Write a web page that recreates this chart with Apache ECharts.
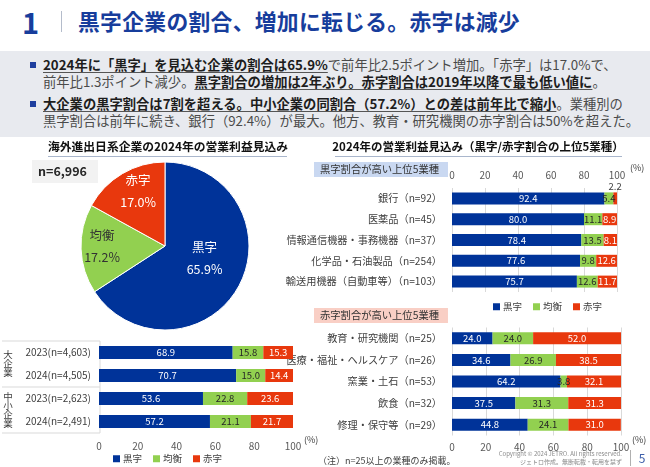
<!DOCTYPE html>
<html><head><meta charset="utf-8">
<script src="https://cdn.jsdelivr.net/npm/echarts@6/dist/echarts.min.js"></script>
<style>
html,body{margin:0;padding:0;background:#fff;}
#wrap{position:relative;width:650px;height:467px;overflow:hidden;font-family:"Noto Sans CJK JP","Noto Sans",sans-serif;}
#chart{position:absolute;left:0;top:0;width:650px;height:467px;}
.abs{position:absolute;white-space:nowrap;}
#num{left:22px;top:2px;font-size:29px;font-weight:bold;color:#173d9c;line-height:38px;}
#sep{left:61px;top:11px;width:1px;height:21px;background:#b4bccb;}
#ttl{left:78px;top:5px;font-size:21.8px;font-weight:bold;color:#173d9c;line-height:31px;letter-spacing:0.3px;}
#box{left:0;top:51px;width:650px;height:86px;background:#e8eaef;}
.bul{width:6px;height:6px;background:#1f3f9f;}
.ln{font-size:13.3px;line-height:16px;color:#4a4a4a;left:43px;}
.ln b{color:#1d1d1d;text-decoration:underline;text-decoration-color:#555;text-underline-offset:2px;}
</style></head>
<body><div id="wrap">
<div id="box" class="abs"></div>
<div id="num" class="abs">1</div><div id="sep" class="abs"></div>
<div id="ttl" class="abs">黒字企業の割合、増加に転じる。赤字は減少</div>
<div class="abs bul" style="left:30px;top:62px"></div>
<div class="abs bul" style="left:30px;top:101px"></div>
<div class="abs ln" style="top:57px"><b>2024年に「黒字」を見込む企業の割合は65.9%</b>で前年比2.5ポイント増加。「赤字」は17.0%で、</div>
<div class="abs ln" style="top:74px">前年比1.3ポイント減少。<b>黒字割合の増加は2年ぶり。赤字割合は2019年以降で最も低い値に</b>。</div>
<div class="abs ln" style="top:96px"><b>大企業の黒字割合は7割を超える。中小企業の同割合（57.2%）との差は前年比で縮小</b>。業種別の</div>
<div class="abs ln" style="top:113px">黒字割合は前年に続き、銀行（92.4%）が最大。他方、教育・研究機関の赤字割合は50%を超えた。</div>
<div id="chart"></div>
</div>
<script>
// ---------- data ----------
const SERIES_NAMES = ['黒字', '均衡', '赤字'];

const PIE_VALUES = [65.9, 17.2, 17.0];
const PIE_N = 'n=6,996';
const PIE_TITLE = '海外進出日系企業の2024年の営業利益見込み';

const SIZE_GROUPS = ['大企業', '中小企業'];
const SIZE_CATS = ['2023(n=4,603)', '2024(n=4,505)', '2023(n=2,623)', '2024(n=2,491)'];
const SIZE_KURO = [68.9, 70.7, 53.6, 57.2];
const SIZE_KINKO = [15.8, 15.0, 22.8, 21.1];
const SIZE_AKA = [15.3, 14.4, 23.6, 21.7];

const IND_TITLE = '2024年の営業利益見込み（黒字/赤字割合の上位5業種）';
const TOP_LABEL = '黒字割合が高い上位5業種';
const TOP_CATS = ['銀行（n=92）', '医薬品（n=45）', '情報通信機器・事務機器（n=37）', '化学品・石油製品（n=254）', '輸送用機器（自動車等）（n=103）'];
const TOP_KURO = [92.4, 80.0, 78.4, 77.6, 75.7];
const TOP_KINKO = [5.4, 11.1, 13.5, 9.8, 12.6];
const TOP_AKA = [2.2, 8.9, 8.1, 12.6, 11.7];

const LOSS_LABEL = '赤字割合が高い上位5業種';
const LOSS_CATS = ['教育・研究機関（n=25）', '医療・福祉・ヘルスケア（n=26）', '窯業・土石（n=53）', '飲食（n=32）', '修理・保守等（n=29）'];
const LOSS_KURO = [24.0, 34.6, 64.2, 37.5, 44.8];
const LOSS_KINKO = [24.0, 26.9, 3.8, 31.3, 24.1];
const LOSS_AKA = [52.0, 38.5, 32.1, 31.3, 31.0];

const AXIS_MIN = 0, AXIS_MAX = 100, AXIS_STEP = 20;
const UNIT = '(%)';
const NOTE = '（注）n=25以上の業種のみ掲載。';
const COPY1 = 'Copyright © 2024 JETRO. All rights reserved.';
const COPY2 = 'ジェトロ作成。無断転載・転用を禁ず';
const PAGE = '5';

// ---------- styles ----------
const FONT = '"Noto Sans CJK JP","Noto Sans",sans-serif';
const COLORS = ['#003399', '#92d050', '#e8380d'];
const LABEL_COLORS = ['#ffffff', '#262626', '#ffffff'];
const PIE_LABEL_SHIFT = [[0, -9], [-18, -1], [-4, -16]];

const chart = echarts.init(document.getElementById('chart'), null, {renderer: 'canvas', width: 650, height: 467});

function valueAxis(gi, pos, margin, split) {
  return {
    type: 'value', gridIndex: gi, min: AXIS_MIN, max: AXIS_MAX, interval: AXIS_STEP, position: pos,
    axisLine: {show: false}, axisTick: {show: false},
    axisLabel: {fontSize: 10, color: '#595959', margin: margin, fontFamily: FONT},
    splitLine: {show: split, lineStyle: {color: '#d9d9d9', width: 1}}
  };
}
function catAxis(gi, cats, fs, margin) {
  return {
    type: 'category', gridIndex: gi, data: cats, inverse: true,
    axisLine: {show: false}, axisTick: {show: false},
    axisLabel: {fontSize: fs, color: '#404040', margin: margin, fontFamily: FONT}
  };
}
function stack(gi, arrays, barWidth, fs) {
  return arrays.map((arr, k) => ({
    name: SERIES_NAMES[k], type: 'bar', stack: 's' + gi, xAxisIndex: gi, yAxisIndex: gi,
    barWidth: barWidth, itemStyle: {color: COLORS[k]},
    label: {show: true, position: 'inside', color: LABEL_COLORS[k], fontSize: fs, fontFamily: FONT,
      formatter: p => Number(p.value).toFixed(1)},
    emphasis: {disabled: true},
    data: arr.map(v => v < 3 ? {value: v, label: {position: 'top', color: '#404040', distance: 1}} : v)
  }));
}

const txt = (x, y, text, opt) => ({type: 'text', x: x, y: y, silent: true,
  style: Object.assign({text: text, fontFamily: FONT, fontSize: 9, fill: '#404040', textVerticalAlign: 'middle'}, opt || {})});
const line = (x1, y1, x2, y2, color) => ({type: 'line', silent: true, shape: {x1, y1, x2, y2}, style: {stroke: color || '#d9d9d9', lineWidth: 1}});

const option = {
  animation: false,
  textStyle: {fontFamily: FONT},
  title: [
    {text: PIE_TITLE, left: 168, top: 141, textAlign: 'center', textStyle: {fontSize: 11.8, fontWeight: 'bold', color: '#111'}, padding: 0},
    {text: IND_TITLE, left: 478, top: 141, textAlign: 'center', textStyle: {fontSize: 11.5, fontWeight: 'bold', color: '#111'}, padding: 0},
    {text: PIE_N, left: 32, top: 160, backgroundColor: '#f2f2f2', padding: [4, 11, 4, 6], textStyle: {fontSize: 12.5, fontWeight: 'bold', color: '#262626', lineHeight: 15}},
    {text: TOP_LABEL, left: 314, top: 162, backgroundColor: '#c9d8f1', padding: [2, 9, 2, 6], textStyle: {fontSize: 10.3, fontWeight: 'normal', color: '#333', lineHeight: 11}},
    {text: LOSS_LABEL, left: 314, top: 308, backgroundColor: '#f9cfc5', padding: [2, 9, 2, 6], textStyle: {fontSize: 10.3, fontWeight: 'normal', color: '#333', lineHeight: 11}}
  ],
  legend: [
    {data: SERIES_NAMES, left: 113, top: 454, icon: 'rect', itemWidth: 7, itemHeight: 7, itemGap: 11, padding: 0,
      textStyle: {fontSize: 9.5, color: '#404040', padding: [0, 0, 0, -2]}, selectedMode: false},
    {data: SERIES_NAMES, left: 493, top: 302, icon: 'rect', itemWidth: 7, itemHeight: 7, itemGap: 11, padding: 0,
      textStyle: {fontSize: 9.5, color: '#404040', padding: [0, 0, 0, -2]}, selectedMode: false}
  ],
  grid: [
    {left: 99, top: 341, width: 194, height: 92, containLabel: false},
    {left: 452, top: 188, width: 165, height: 104, containLabel: false},
    {left: 452, top: 327.5, width: 169, height: 108, containLabel: false}
  ],
  xAxis: [valueAxis(0, 'bottom', 8, false), valueAxis(1, 'top', 8, true), valueAxis(2, 'bottom', 7, true)],
  yAxis: [catAxis(0, SIZE_CATS, 10, 8), catAxis(1, TOP_CATS, 10.2, 10), catAxis(2, LOSS_CATS, 10.2, 10)],
  series: [
    {
      type: 'pie', center: [165, 246], radius: 84, startAngle: 90, clockwise: true,
      emphasis: {disabled: true}, silent: true,
      itemStyle: {borderColor: '#ffffff', borderWidth: 1},
      label: {show: true, position: 'inside', fontFamily: FONT, lineHeight: 22,
        formatter: p => p.name + '\n' + p.value.toFixed(1) + '%'},
      labelLayout: p => ({dx: PIE_LABEL_SHIFT[p.dataIndex][0], dy: PIE_LABEL_SHIFT[p.dataIndex][1]}),
      data: SERIES_NAMES.map((n, i) => ({name: n, value: PIE_VALUES[i],
        itemStyle: {color: COLORS[i]},
        label: {color: i === 1 ? '#333' : '#fff', fontSize: 12.5}}))
    },
    ...stack(0, [SIZE_KURO, SIZE_KINKO, SIZE_AKA], 13, 9.5),
    ...stack(1, [TOP_KURO, TOP_KINKO, TOP_AKA], 12, 9.5),
    ...stack(2, [LOSS_KURO, LOSS_KINKO, LOSS_AKA], 12, 9.5)
  ],
  graphic: [
    line(48, 156.5, 287, 156.5, '#a9b6cc'),
    line(335, 156.5, 622, 156.5, '#a9b6cc'),
    line(2, 341, 100, 341), line(2, 387, 100, 387), line(2, 433, 100, 433), line(100, 341, 100, 433),
    txt(8, 363, SIZE_GROUPS[0].split('').join('\n'), {fontSize: 9.5, lineHeight: 9, textAlign: 'center'}),
    txt(8, 410, SIZE_GROUPS[1].split('').join('\n'), {fontSize: 9.5, lineHeight: 9, textAlign: 'center'}),
    txt(304, 440, UNIT, {fontSize: 9}),
    txt(630, 168, UNIT, {fontSize: 9}),
    txt(632, 440, UNIT, {fontSize: 9}),
    txt(318, 461, NOTE, {fontSize: 9}),
    txt(622, 453.5, COPY1, {fontSize: 6, fill: '#8a8a8a', textAlign: 'right'}),
    txt(622, 461.5, COPY2, {fontSize: 6, fill: '#8a8a8a', textAlign: 'right'}),
    line(630.5, 450, 630.5, 466, '#b0b0b0'),
    txt(642, 458, PAGE, {fontSize: 12, fill: '#3d5faa', textAlign: 'center'})
  ]
};
chart.setOption(option);
</script>
</body></html>
